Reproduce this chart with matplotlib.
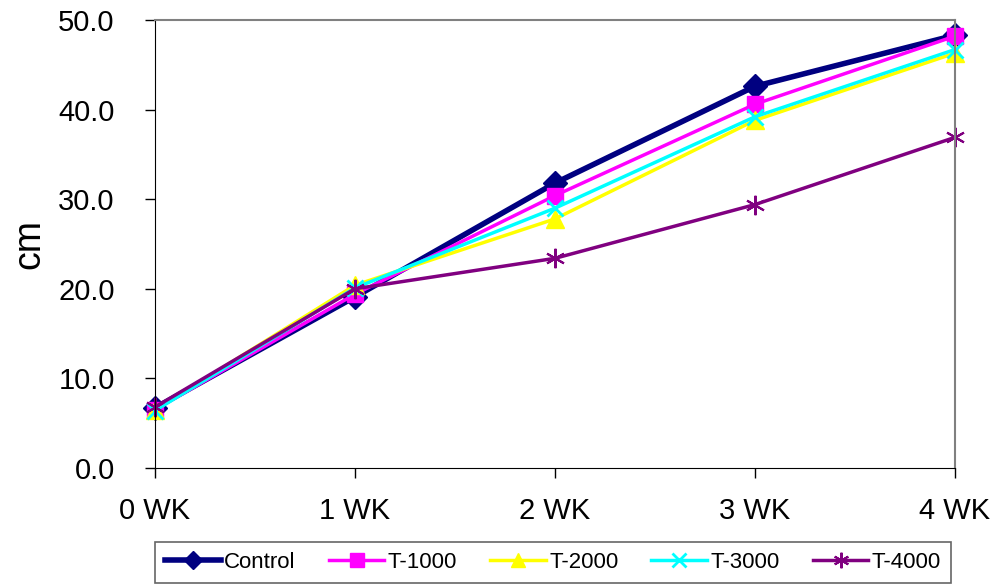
import matplotlib.pyplot as plt
import numpy as np

weeks = ["0 WK", "1 WK", "2 WK", "3 WK", "4 WK"]
control = [6.7, 19.1, 31.8, 42.6, 48.3]
t1000 = [6.5, 19.4, 30.4, 40.6, 48.2]
t2000 = [6.5, 20.4, 27.8, 38.8, 46.3]
t3000 = [6.4, 20.1, 29.0, 39.2, 46.7]
t4000 = [6.8, 20.0, 23.4, 29.4, 36.9]

plt.rcParams['font.family'] = ['Liberation Sans', 'DejaVu Sans']

fig = plt.figure(figsize=(10.02, 5.86), dpi=100)
ax = fig.add_axes([0.1547, 0.2014, 0.7984, 0.7645])

x = np.arange(len(weeks))
asterisk = (6, 2, 0)
ax.plot(x, control, color='#000080', lw=4, marker='D', ms=12, label='Control', clip_on=False)
ax.plot(x, t1000, color='#FF00FF', lw=2.5, marker='s', ms=12, label='T-1000', clip_on=False)
ax.plot(x, t2000, color='#FFFF00', lw=2.5, marker='^', ms=13, label='T-2000', clip_on=False)
ax.plot(x, t3000, color='#00FFFF', lw=2.5, marker='x', ms=12, mew=2, label='T-3000', clip_on=False)
ax.plot(x, t4000, color='#800080', lw=2.5, marker=asterisk, ms=14, mew=1.5, label='T-4000', clip_on=False)

ax.set_xlim(0, 4)
ax.set_ylim(0, 50)
ax.set_xticks(x)
ax.set_xticklabels(weeks)
ax.set_yticks(np.arange(0, 51, 10))
ax.set_yticklabels([f"{v:.1f}" for v in np.arange(0, 51, 10)])
ax.tick_params(labelsize=21, direction='out', length=7, width=1)
ax.tick_params(axis='y', pad=22)
ax.tick_params(axis='x', pad=14)
ax.set_ylabel("cm", fontsize=27, labelpad=8)

for s in ['left', 'bottom']:
    ax.spines[s].set_color('black')
for s in ['top', 'right']:
    ax.spines[s].set_color('#808080')
    ax.spines[s].set_linewidth(1.5)

leg = fig.legend(loc='lower left', bbox_to_anchor=(0.155, 0.005, 0.794, 0.068), mode='expand',
                 ncol=5, fontsize=16, handlelength=2.5, handletextpad=0.15, columnspacing=1.0,
                 frameon=True, fancybox=False, borderpad=0.45, borderaxespad=0, markerscale=0.8)
leg.get_frame().set_edgecolor('#404040')
leg.get_frame().set_linewidth(1.2)

fig.savefig('out.png', dpi=100)
